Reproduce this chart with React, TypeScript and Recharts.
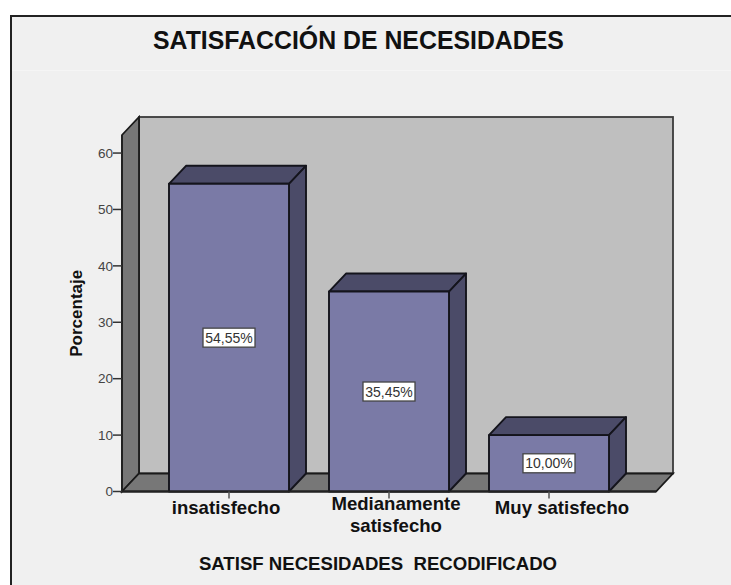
import { BarChart, Bar, XAxis, YAxis, LabelList, usePlotArea } from 'recharts'

const categorias = ['insatisfecho', 'Medianamente satisfecho', 'Muy satisfecho']
const porcentajes = [54.55, 35.45, 10.0]
const ticksY = [0, 10, 20, 30, 40, 50, 60]

const datos = categorias.map((nombre, i) => ({ nombre, valor: porcentajes[i] }))

// profundidad del efecto 3D
const DX = 17
const DY = 18

const Paredes = () => {
  const plot = usePlotArea()
  if (!plot) return null
  const { x, y, width, height } = plot
  const abajo = y + height
  return (
    <g>
      <rect x={x + DX} y={y - DY} width={width} height={height} fill="#bfbfbf" stroke="#3a3a3a" strokeWidth={1.8} />
      <polygon
        points={`${x},${y} ${x + DX},${y - DY} ${x + DX},${abajo - DY} ${x},${abajo}`}
        fill="#777777"
        stroke="#1a1a1a"
        strokeWidth={1.8}
      />
      <polygon
        points={`${x},${abajo} ${x + DX},${abajo - DY} ${x + width + DX},${abajo - DY} ${x + width},${abajo}`}
        fill="#777777"
        stroke="#1a1a1a"
        strokeWidth={1.8}
      />
    </g>
  )
}

const Barra3D = (props: any) => {
  const { x, y, width, height } = props
  const der = x + width
  const abajo = y + height
  return (
    <g stroke="#14141c" strokeWidth={1.9} strokeLinejoin="round">
      <polygon
        points={`${x},${y} ${x + DX},${y - DY} ${der + DX},${y - DY} ${der},${y}`}
        fill="#4b4b68"
      />
      <polygon
        points={`${der},${y} ${der + DX},${y - DY} ${der + DX},${abajo - DY} ${der},${abajo}`}
        fill="#4b4b68"
      />
      <rect x={x} y={y} width={width} height={height} fill="#7a7aa6" />
    </g>
  )
}

const EtiquetaPct = (props: any) => {
  const { x, y, width, height, value } = props
  const cx = x + width / 2
  const cy = y + height / 2
  return (
    <g>
      <rect x={cx - 26} y={cy - 9.5} width={52} height={19} fill="#ffffff" stroke="#444" strokeWidth={1.3} />
      <text x={cx} y={cy + 5} textAnchor="middle" fontSize={14} fill="#333">
        {Number(value).toFixed(2).replace('.', ',') + '%'}
      </text>
    </g>
  )
}

// las etiquetas del original no quedan centradas en su marca
const desplazoEtiqueta = [-3, 7, 13]

const TickX = (props: any) => {
  const { x, y, payload, index } = props
  const texto: string = payload.value
  const lineas = texto === 'Medianamente satisfecho' ? texto.split(' ') : [texto]
  const inicio = lineas.length > 1 ? y + 9 : y + 13
  return (
    <text textAnchor="middle" fontSize={18.6} fontWeight={700} fill="#111">
      {lineas.map((l, i) => (
        <tspan key={l} x={x + desplazoEtiqueta[index]} y={inicio + i * 22}>
          {l}
        </tspan>
      ))}
    </text>
  )
}

export default function App() {
  return (
    <div
      style={{
        position: 'absolute',
        left: 0,
        top: 0,
        width: 731,
        height: 585,
        overflow: 'hidden',
        background: '#ffffff',
        fontFamily: '"Liberation Sans", Arial, sans-serif',
      }}
    >
      <div
        style={{
          position: 'absolute',
          left: 10,
          top: 15,
          width: 721,
          height: 570,
          boxSizing: 'border-box',
          borderTop: '2px solid #222',
          borderLeft: '2px solid #222',
          background: '#f0f0f0',
        }}
      />
      <div style={{ position: 'absolute', left: 12, top: 70, width: 719, height: 1, background: '#f5f5f5' }} />
      <div
        style={{
          position: 'absolute',
          left: 153,
          top: 27,
          fontSize: 24.85,
          fontWeight: 700,
          color: '#111',
          whiteSpace: 'nowrap',
        }}
      >
        SATISFACCIÓN DE NECESIDADES
      </div>
      <div style={{ position: 'absolute', left: 0, top: 0 }}>
        <BarChart
          width={731}
          height={585}
          data={datos}
          margin={{ top: 135, left: 62, right: 75, bottom: 0 }}
          barCategoryGap={0}
          style={{ fontFamily: '"Liberation Sans", Arial, sans-serif' }}
        >
          <Paredes />
          <XAxis
            dataKey="nombre"
            interval={0}
            padding={{ left: 27, right: 27 }}
            height={93.5}
            tickSize={7}
            tick={<TickX />}
            axisLine={{ stroke: '#222', strokeWidth: 1.8 }}
            tickLine={{ stroke: '#555', strokeWidth: 1.5 }}
            label={{
              value: 'SATISF NECESIDADES\u00a0\u00a0RECODIFICADO',
              position: 'insideBottom',
              offset: 15,
              dx: -11,
              fontSize: 18.6,
              fontWeight: 700,
              fill: '#111',
            }}
          />
          <YAxis
            type="number"
            domain={[0, 63.2]}
            ticks={ticksY}
            width={60}
            tickSize={9}
            tickMargin={0}
            tick={{ fill: '#444', fontSize: 13.5 }}
            axisLine={{ stroke: '#222', strokeWidth: 1.8 }}
            tickLine={{ stroke: '#333', strokeWidth: 1.5 }}
            label={{
              value: 'Porcentaje',
              angle: -90,
              position: 'insideLeft',
              offset: 14,
              textAnchor: 'middle',
              fontSize: 17,
              fontWeight: 700,
              fill: '#111',
            }}
          />
          <Bar dataKey="valor" barSize={120} shape={<Barra3D />} isAnimationActive={false}>
            <LabelList dataKey="valor" content={<EtiquetaPct />} />
          </Bar>
        </BarChart>
      </div>
    </div>
  )
}
